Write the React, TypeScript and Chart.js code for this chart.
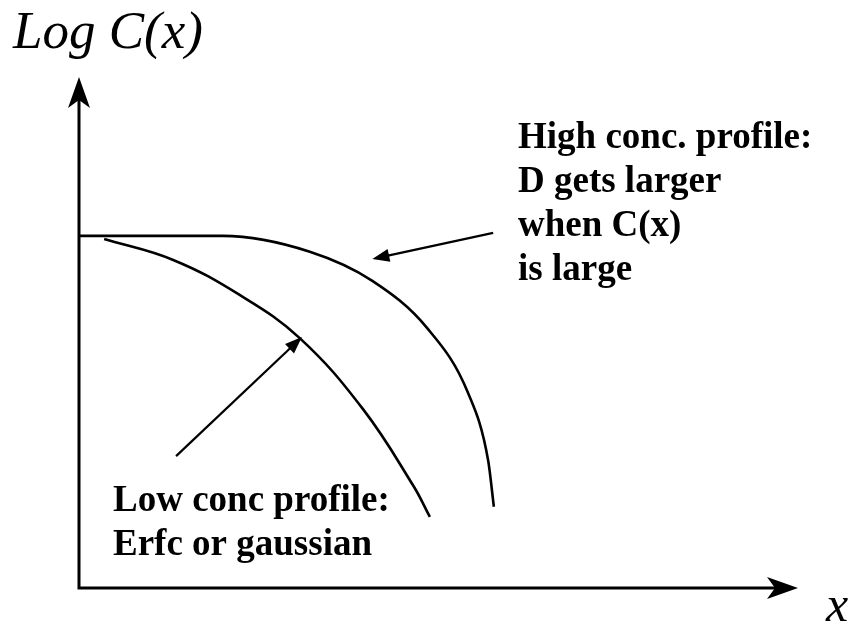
import React, { useEffect, useRef } from "react";
import { Chart, registerables } from "chart.js";

Chart.register(...registerables);

// Depth (arbitrary units) and log-concentration (arbitrary units)
const highConcX = [0, 0.99, 2.0, 3.21, 4.08, 4.84, 5.41, 5.69, 5.77];
const highConcY = [6.89, 6.89, 6.89, 6.58, 6.01, 5.09, 3.82, 2.5, 1.59];

const lowConcX = [0.35, 1.31, 2.24, 3.07, 3.95, 4.65, 4.88];
const lowConcY = [6.83, 6.42, 5.73, 4.89, 3.5, 2.0, 1.39];

// Annotation arrows: [fromX, fromY, toX, toY] in data units
const highArrow = [5.76, 6.95, 4.08, 6.44];
const lowArrow = [1.35, 2.58, 3.1, 4.91];

const highLabel = ["High conc. profile:", "D gets larger", "when C(x)", "is large"];
const lowLabel = ["Low conc profile:", "Erfc or gaussian"];
const yTitle = "Log C(x)";
const xTitle = "x";

const xRange = [0, 10];
const yRange = [0, 10];

function toPoints(xs: number[], ys: number[]) {
  return xs.map((x, i) => ({ x, y: ys[i] }));
}

function filledHead(ctx: CanvasRenderingContext2D, x1: number, y1: number, x2: number, y2: number, len: number, half: number, notch: number) {
  const a = Math.atan2(y2 - y1, x2 - x1);
  const cos = Math.cos(a);
  const sin = Math.sin(a);
  const bx = x2 - len * cos;
  const by = y2 - len * sin;
  ctx.beginPath();
  ctx.moveTo(x2, y2);
  ctx.lineTo(bx - half * sin, by + half * cos);
  ctx.lineTo(x2 - (len - notch) * cos, y2 - (len - notch) * sin);
  ctx.lineTo(bx + half * sin, by - half * cos);
  ctx.closePath();
  ctx.fill();
}

const decorations = {
  id: "decorations",
  afterDatasetsDraw(chart: any) {
    const { ctx, scales } = chart;
    const xs = scales.x;
    const ys = scales.y;
    const ox = xs.getPixelForValue(xRange[0]);
    const oy = ys.getPixelForValue(yRange[0]);
    const xEnd = xs.getPixelForValue(xRange[1]);
    const yEnd = ys.getPixelForValue(yRange[1]);

    ctx.save();
    ctx.strokeStyle = "#000";
    ctx.fillStyle = "#000";
    ctx.lineCap = "butt";

    // axes
    ctx.lineWidth = 3;
    ctx.beginPath();
    ctx.moveTo(ox, oy + 1.5);
    ctx.lineTo(ox, yEnd + 20);
    ctx.moveTo(ox - 1.5, oy);
    ctx.lineTo(xEnd - 20, oy);
    ctx.stroke();
    filledHead(ctx, ox, oy, ox, yEnd, 31, 11, 8);
    filledHead(ctx, ox, oy, xEnd, oy, 31, 11, 8);

    // annotation arrows
    ctx.lineWidth = 2.2;
    for (const arr of [highArrow, lowArrow]) {
      const x1 = xs.getPixelForValue(arr[0]);
      const y1 = ys.getPixelForValue(arr[1]);
      const x2 = xs.getPixelForValue(arr[2]);
      const y2 = ys.getPixelForValue(arr[3]);
      const a = Math.atan2(y2 - y1, x2 - x1);
      ctx.beginPath();
      ctx.moveTo(x1, y1);
      ctx.lineTo(x2 - 10 * Math.cos(a), y2 - 10 * Math.sin(a));
      ctx.stroke();
      filledHead(ctx, x1, y1, x2, y2, 17, 6.5, 0);
    }

    // labels
    ctx.textBaseline = "alphabetic";
    ctx.textAlign = "left";
    ctx.font = 'italic 53px "Liberation Serif", "Times New Roman", serif';
    ctx.fillText(yTitle, 13, 48);
    ctx.font = 'italic 50px "Liberation Serif", "Times New Roman", serif';
    ctx.fillText(xTitle, 826, 621);

    ctx.font = 'bold 37px "Liberation Serif", "Times New Roman", serif';
    highLabel.forEach((t, i) => ctx.fillText(t, 518, 148 + i * 44));
    lowLabel.forEach((t, i) => ctx.fillText(t, 113, 511 + i * 44));
    ctx.restore();
  },
};

export default function App() {
  const canvasRef = useRef<HTMLCanvasElement | null>(null);

  useEffect(() => {
    const canvas = canvasRef.current;
    if (!canvas) return;
    const chart = new Chart(canvas, {
      type: "scatter",
      data: {
        datasets: [
          {
            label: "High conc. profile",
            data: toPoints(highConcX, highConcY),
            showLine: true,
            borderColor: "#000",
            borderWidth: 2.6,
            pointRadius: 0,
            cubicInterpolationMode: "monotone",
            fill: false,
          },
          {
            label: "Low conc profile",
            data: toPoints(lowConcX, lowConcY),
            showLine: true,
            borderColor: "#000",
            borderWidth: 2.6,
            pointRadius: 0,
            tension: 0.4,
            fill: false,
          },
        ],
      },
      options: {
        animation: false,
        responsive: false,
        maintainAspectRatio: false,
        clip: false as any,
        layout: { padding: { left: 79, right: 52, top: 77, bottom: 37 } },
        plugins: { legend: { display: false }, tooltip: { enabled: false } },
        scales: {
          x: { type: "linear", min: xRange[0], max: xRange[1], display: false },
          y: { type: "linear", min: yRange[0], max: yRange[1], display: false },
        },
      },
      plugins: [decorations],
    });
    return () => chart.destroy();
  }, []);

  return (
    <div style={{ position: "absolute", left: 0, top: 0, width: 850, height: 625, background: "#fff" }}>
      <canvas ref={canvasRef} width={850} height={625} style={{ width: 850, height: 625, display: "block" }} />
    </div>
  );
}
